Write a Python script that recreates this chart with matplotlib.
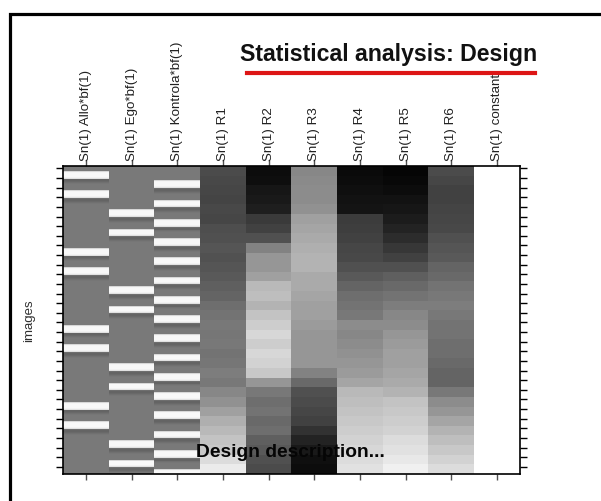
import numpy as np
import matplotlib
matplotlib.use("Agg")
import matplotlib.pyplot as plt
from matplotlib.patches import Rectangle
from matplotlib.lines import Line2D

plt.rcParams['font.family'] = ['Liberation Sans', 'DejaVu Sans']

# regressor names, in column order
columns = ["Sn(1) Allo*bf(1)", "Sn(1) Ego*bf(1)", "Sn(1) Kontrola*bf(1)",
           "Sn(1) R1", "Sn(1) R2", "Sn(1) R3", "Sn(1) R4", "Sn(1) R5",
           "Sn(1) R6", "Sn(1) constant"]

n_scans = 320
block_len = 10
first_onset = 5

# condition of each block, in order of presentation
block_order = ["Allo", "Kontrola", "Allo", "Kontrola",
               "Ego", "Kontrola", "Ego", "Kontrola"] * 4

# grey level of a convolved block regressor, scan by scan from onset
block_shape = [215, 245, 248, 248, 248, 248, 242, 225, 110, 100, 100, 105, 112, 118]
baseline = 122

# realignment parameters (grey level, one value per 10 scans)
r1 = [75, 72, 70, 68, 72, 70, 78, 80, 85, 82, 85, 90, 95, 100, 110, 115,
      120, 118, 120, 115, 118, 125, 120, 135, 145, 160, 175, 185, 195, 200, 220, 235]
r2 = [12, 14, 22, 25, 30, 58, 65, 80, 130, 150, 150, 160, 185, 190, 180, 195,
      205, 215, 205, 215, 210, 200, 150, 120, 110, 115, 105, 110, 95, 90, 80, 75]
r3 = [135, 138, 140, 140, 145, 160, 165, 170, 175, 180, 180, 170, 170, 165, 160, 160,
      155, 150, 150, 150, 150, 130, 105, 80, 75, 70, 65, 50, 35, 25, 15, 12]
r4 = [10, 12, 15, 18, 20, 60, 62, 65, 70, 72, 80, 90, 100, 110, 115, 120,
      140, 135, 140, 145, 150, 155, 165, 185, 190, 195, 200, 205, 210, 215, 220, 225]
r5 = [5, 8, 12, 18, 22, 28, 35, 45, 55, 65, 80, 95, 105, 115, 125, 135,
      140, 150, 155, 160, 160, 165, 170, 180, 195, 200, 205, 210, 220, 225, 232, 240]
r6 = [75, 70, 65, 65, 68, 70, 72, 80, 85, 90, 100, 105, 115, 120, 125, 120,
      115, 115, 110, 110, 105, 100, 100, 120, 140, 150, 165, 180, 190, 200, 210, 220]
constant = 255

# build the design matrix
cond_cols = {"Allo": 0, "Ego": 1, "Kontrola": 2}
X = np.full((n_scans, len(columns)), float(baseline))
for k, cond in enumerate(block_order):
    start = first_onset + k * block_len
    stop = min(start + len(block_shape), n_scans)
    X[start:stop, cond_cols[cond]] = block_shape[:stop - start]
for j, r in enumerate([r1, r2, r3, r4, r5, r6]):
    X[:, 3 + j] = np.repeat(r, block_len)
X[:, 9] = constant

fig = plt.figure(figsize=(6.01, 5.02), dpi=100)
ax = fig.add_axes([63 / 601, 27 / 502, 457 / 601, 308 / 502])
ax.imshow(X, cmap='gray', vmin=0, vmax=255, aspect='auto',
          interpolation='nearest', extent=(0.5, 10.5, n_scans, 0))
ax.set_xlim(0.5, 10.5)
ax.set_ylim(n_scans, 0)

ax.set_xticks(np.arange(1, 11))
ax.set_xticklabels(columns, rotation=90, fontsize=9.6, color='#202020')
ax.tick_params(axis='x', top=True, bottom=True, labeltop=True, labelbottom=False,
               direction='out', length=4, width=1, pad=0)
ax.tick_params(axis='x', which='major', bottom=True, color='#505050')
ax.set_yticks(np.arange(2.5, n_scans, 10))
ax.tick_params(axis='y', left=True, right=True, labelleft=False, labelright=False,
               direction='out', length=5, width=1)
for lab in ax.get_xticklabels():
    lab.set_va('bottom')
for s in ax.spines.values():
    s.set_linewidth(1.2)
    s.set_color('black')

ax.set_ylabel("images", fontsize=9.5, color='#303030')
ax.yaxis.set_label_coords(-0.061, 0.5)

title = fig.text(240 / 601, 1 - 61 / 502, "Statistical analysis: Design",
                 fontsize=17, fontweight='bold', ha='left', va='baseline',
                 color='#111111')
fig.add_artist(Line2D([247 / 601, 535 / 601], [1 - 74 / 502, 1 - 74 / 502],
                      transform=fig.transFigure, color='#dd1515', lw=3))

desc = fig.text(196 / 601, 1 - 457 / 502, "Design description...",
                fontsize=15, fontweight='bold', ha='left', va='baseline',
                color='#050505')

# squeeze the two headings to their widths
fig.canvas.draw()
renderer = fig.canvas.get_renderer()
for t, width in [(title, 300), (desc, 190)]:
    bb = t.get_window_extent(renderer)
    t.set_fontsize(t.get_fontsize() * width / bb.width)

# outer frame
fig.add_artist(Rectangle((10.5 / 601, -0.1), 2, 0.1 + 1 - 14.5 / 502,
                         transform=fig.transFigure, fill=False, lw=2.3,
                         ec='black'))

fig.savefig("out.png", dpi=100)
